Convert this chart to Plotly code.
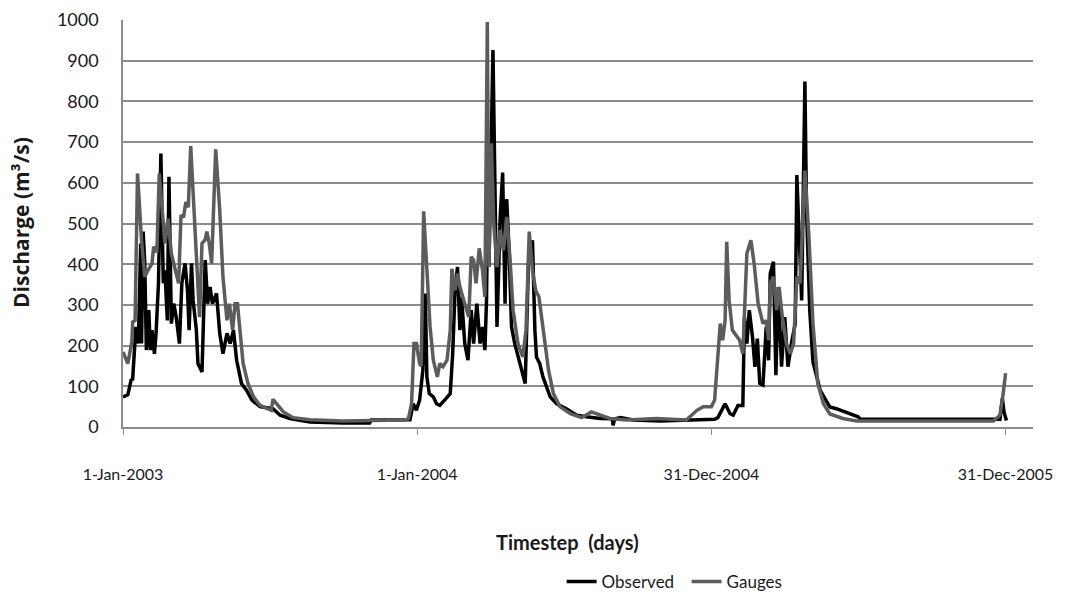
import pandas as pd
import plotly.graph_objects as go

START = pd.Timestamp("2003-01-01")

# Day offsets from 1-Jan-2003 and discharge (m3/s)
obs_day = [0, 6, 10, 12, 16, 19, 22, 23, 25, 27, 29, 32, 34, 36, 39, 41, 44, 47, 50, 52,
           55, 57, 60, 63, 66, 70, 73, 77, 80, 82, 85, 87, 91, 93, 98, 102, 105, 108, 111, 116,
           120, 124, 129, 133, 137, 141, 147, 153, 160, 170, 186, 195, 207, 232, 273, 306, 308, 348, 356, 360,
           364, 368, 372, 375, 377, 380, 385, 389, 393, 399, 406, 409, 412, 415, 418, 420, 424, 428, 432, 435,
           439, 443, 446, 449, 451, 453, 454, 459, 460, 464, 468, 471, 474, 476, 479, 482, 486, 492, 499, 503,
           508, 511, 513, 517, 521, 530, 538, 550, 563, 575, 592, 607, 608, 610, 617, 633, 666, 734, 738, 747,
           753, 757, 763, 769, 771, 774, 777, 781, 784, 787, 790, 794, 798, 801, 803, 807, 810, 813, 817, 821,
           825, 830, 834, 836, 840, 842, 846, 848, 852, 856, 865, 877, 885, 902, 912, 915, 1088, 1091, 1093, 1096]
obs_q = [74, 79, 115, 118, 246, 205, 451, 205, 480, 402, 189, 287, 189, 238, 180, 230, 353, 672, 353, 385,
         262, 615, 254, 303, 270, 205, 353, 402, 336, 238, 402, 311, 238, 156, 135, 410, 303, 344, 303, 328,
         230, 180, 230, 205, 238, 164, 107, 91, 66, 50, 45, 29, 21, 12, 10, 10, 17, 18, 18, 57,
         41, 66, 139, 328, 123, 82, 74, 57, 53, 66, 82, 180, 336, 393, 238, 320, 205, 164, 287, 205,
         303, 205, 246, 189, 311, 656, 393, 926, 754, 246, 516, 625, 303, 560, 434, 246, 205, 156, 107, 402,
         459, 238, 172, 156, 123, 74, 57, 45, 29, 25, 21, 20, 4, 20, 23, 17, 15, 19, 23, 57,
         33, 29, 53, 53, 270, 205, 287, 221, 148, 217, 107, 103, 246, 164, 377, 406, 127, 344, 148, 270,
         148, 213, 254, 619, 393, 311, 849, 533, 287, 160, 90, 49, 45, 33, 25, 19, 19, 70, 37, 16]

gau_day = [0, 6, 11, 12, 15, 18, 23, 27, 31, 36, 38, 42, 45, 48, 52, 56, 60, 65, 69, 72,
           75, 78, 81, 84, 87, 91, 95, 98, 102, 104, 107, 110, 115, 120, 124, 129, 132, 136, 139, 142,
           145, 149, 155, 162, 170, 180, 184, 186, 191, 199, 211, 232, 273, 306, 348, 354, 358, 361, 364, 368,
           370, 373, 377, 381, 385, 390, 393, 397, 402, 406, 408, 412, 415, 418, 424, 429, 432, 435, 438, 442,
           446, 449, 452, 454, 457, 460, 464, 468, 472, 476, 480, 484, 490, 496, 500, 504, 508, 512, 516, 521,
           528, 534, 542, 555, 569, 581, 592, 604, 625, 662, 699, 712, 720, 730, 734, 737, 741, 744, 747, 749,
           752, 756, 761, 765, 769, 774, 779, 783, 788, 794, 798, 801, 803, 807, 811, 814, 818, 823, 828, 832,
           836, 840, 846, 851, 856, 862, 869, 877, 893, 910, 1080, 1088, 1092, 1095]
gau_q = [184, 156, 209, 258, 262, 623, 459, 369, 385, 402, 443, 430, 623, 549, 451, 512, 426, 385, 353, 521,
         515, 553, 540, 690, 566, 402, 270, 451, 460, 480, 451, 402, 682, 533, 369, 262, 303, 238, 303, 303,
         238, 156, 107, 74, 53, 45, 41, 68, 57, 37, 23, 18, 15, 15, 17, 20, 57, 205, 205, 156,
         150, 530, 402, 246, 164, 123, 156, 148, 164, 238, 389, 336, 377, 344, 303, 270, 418, 410, 353, 439,
         385, 320, 995, 393, 697, 500, 393, 484, 434, 516, 418, 287, 205, 172, 238, 480, 385, 336, 320, 238,
         139, 82, 50, 33, 23, 37, 29, 21, 17, 21, 17, 41, 50, 50, 66, 139, 254, 213, 262, 455,
         311, 238, 225, 213, 180, 426, 459, 402, 303, 254, 262, 213, 353, 369, 287, 344, 270, 205, 180, 205,
         369, 353, 630, 467, 254, 107, 57, 32, 21, 15, 15, 29, 82, 132]

tick_days = [0, 365, 730, 1095]
tick_text = ["1-Jan-2003", "1-Jan-2004", "31-Dec-2004", "31-Dec-2005"]
y_ticks = list(range(0, 1001, 100))

obs_x = START + pd.to_timedelta(obs_day, unit="D")
gau_x = START + pd.to_timedelta(gau_day, unit="D")
tick_x = START + pd.to_timedelta(tick_days, unit="D")

FONT = "Lato, 'Open Sans', sans-serif"
TXT = "#1a1a1a"

fig = go.Figure()
fig.add_trace(go.Scatter(x=obs_x, y=obs_q, mode="lines", name="Observed",
                         line=dict(color="#000000", width=3.5)))
fig.add_trace(go.Scatter(x=gau_x, y=gau_q, mode="lines", name="Gauges",
                         line=dict(color="#5c5c5c", width=3.5)))

fig.update_layout(
    width=1066, height=598,
    margin=dict(l=123, r=33, t=20, b=171, autoexpand=False),
    paper_bgcolor="white", plot_bgcolor="white",
    font=dict(family=FONT, size=15, color=TXT),
    showlegend=True,
    legend=dict(orientation="h", x=0.482, xanchor="left", y=-0.381, yanchor="middle",
                font=dict(size=17, color=TXT), itemwidth=30, entrywidth=80,
                tracegroupgap=0),
    xaxis=dict(
        type="date",
        range=[START, START + pd.Timedelta(days=1129)],
        tickvals=tick_x, ticktext=tick_text,
        showgrid=False, zeroline=False,
        showline=True, linecolor="#8c8c8c", linewidth=1.5,
        ticks="outside", ticklen=6, tickcolor="#8c8c8c", tickwidth=1,
        ticklabelstandoff=26,
        tickfont=dict(size=16, color=TXT),
    ),
    yaxis=dict(
        range=[0, 1000], tickvals=y_ticks,
        showgrid=True, gridcolor="#8c8c8c", gridwidth=1.5,
        zeroline=False,
        showline=True, linecolor="#8c8c8c", linewidth=1.5,
        ticks="", ticklabelstandoff=19,
        tickfont=dict(size=18, color=TXT),
    ),
    annotations=[
        dict(text="<b>Timestep  (days)</b>", xref="paper", yref="paper",
             x=(567 - 123) / 910, y=(427 - 542) / 407, xanchor="center", yanchor="middle",
             showarrow=False, font=dict(size=20, color=TXT)),
        dict(text="<b>Discharge (m³/s)</b>", xref="paper", yref="paper",
             x=(21 - 123) / 910, y=(427 - 223) / 407, xanchor="center", yanchor="middle",
             textangle=-90, showarrow=False,
             font=dict(family="'Open Sans', sans-serif", size=21, color=TXT)),
    ],
)

fig.write_html("out.html")
